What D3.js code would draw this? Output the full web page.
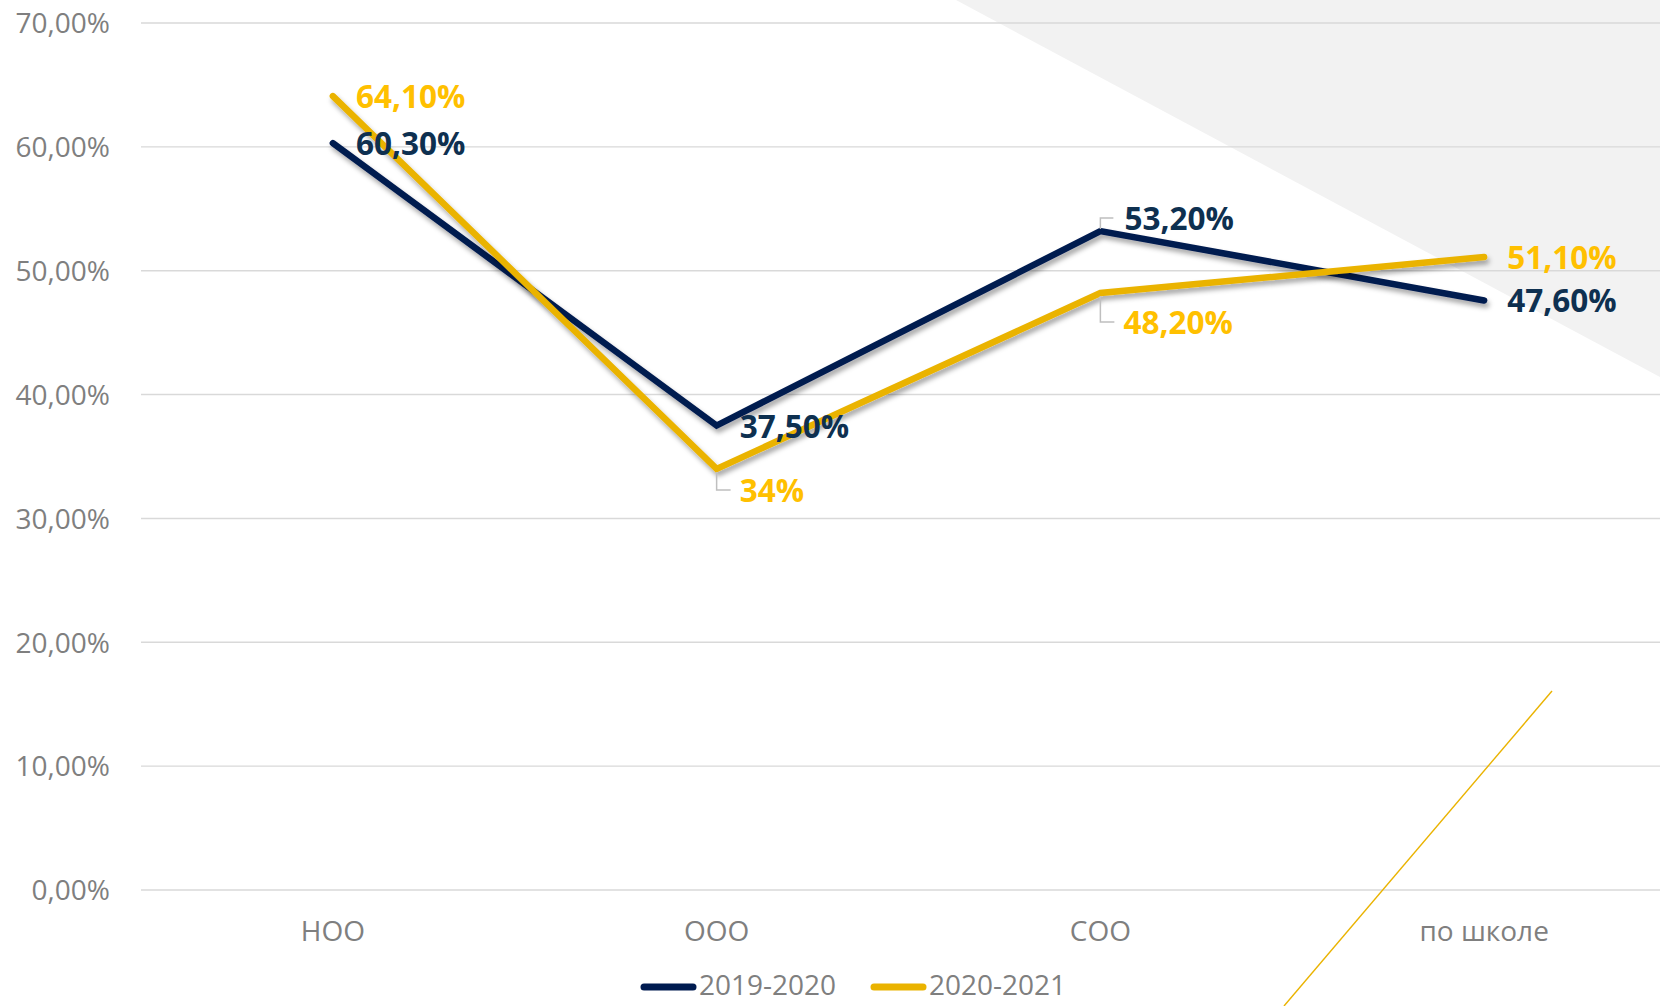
<!DOCTYPE html>
<html><head><meta charset="utf-8">
<script src="https://cdn.jsdelivr.net/npm/d3@7"></script>
<style>html,body{margin:0;padding:0;background:#fff;overflow:hidden}</style>
</head><body>
<svg id="c" width="1660" height="1006"></svg>
<script>
const categories = ["НОО", "ООО", "СОО", "по школе"];
const seriesNames = ["2019-2020", "2020-2021"];
const values2019 = [0.603, 0.375, 0.532, 0.476];
const values2020 = [0.641, 0.34, 0.482, 0.511];
const labels2019 = ["60,30%", "37,50%", "53,20%", "47,60%"];
const labels2020 = ["64,10%", "34%", "48,20%", "51,10%"];
const yTicks = [0, 0.1, 0.2, 0.3, 0.4, 0.5, 0.6, 0.7];
const place2019 = ["right", "right", "above", "right"];
const place2020 = ["right", "below", "below", "right"];

const lineColors = ["#001B50", "#EAB300"];
const labelColors = ["#0E3050", "#FFC000"];

const W = 1660, H = 1006;
const svg = d3.select("#c");
const x = d3.scaleBand().domain(categories).range([141, 1676]);
const y = d3.scaleLinear().domain([0, 0.7]).range([890, 23]);
const fmt = v => d3.format(".2f")(v * 100).replace(".", ",") + "%";

// decorative background triangle
svg.append("path").attr("d", `M956,0 L${W},0 L${W},377 Z`).attr("fill", "#F2F2F2");

// grid
svg.append("g").selectAll("line").data(yTicks).join("line")
  .attr("x1", 141).attr("x2", W)
  .attr("y1", d => y(d)).attr("y2", d => y(d))
  .attr("stroke", "#D9D9D9").attr("stroke-width", 1.4);

// y axis labels
const yAxis = d3.axisLeft(y).tickValues(yTicks).tickFormat(fmt).tickSize(0).tickPadding(0);
const ya = svg.append("g").attr("transform", "translate(110,0)").call(yAxis);
ya.select(".domain").remove();
ya.selectAll("text").attr("font-family", "Open Sans").attr("font-size", 28).attr("fill", "#7F7F7F").attr("dy", "0.35em");

// x axis labels
const xAxis = d3.axisBottom(x).tickSize(0).tickPadding(0);
const xa = svg.append("g").attr("transform", "translate(0,931)").call(xAxis);
xa.select(".domain").remove();
xa.selectAll("text").attr("font-family", "Open Sans").attr("font-size", 28).attr("fill", "#7F7F7F").attr("dy", "0.35em");

// decorative thin diagonal
svg.append("line").attr("x1", 1552).attr("y1", 691).attr("x2", 1284).attr("y2", 1006)
  .attr("stroke", "#EAB300").attr("stroke-width", 1.4);

// shadow
const defs = svg.append("defs");
defs.append("filter").attr("id", "sh").attr("x", "-10%").attr("y", "-10%").attr("width", "120%").attr("height", "130%")
  .append("feDropShadow").attr("dx", 2).attr("dy", 4).attr("stdDeviation", 2.5)
  .attr("flood-color", "#000").attr("flood-opacity", 0.35);

const cx = c => x(c) + x.bandwidth() / 2;
const line = d3.line().x(d => cx(d.c)).y(d => y(d.v));
const series = [values2019, values2020];
series.forEach((vals, i) => {
  svg.append("path").datum(categories.map((c, j) => ({c, v: vals[j]})))
    .attr("d", line).attr("fill", "none").attr("stroke", lineColors[i])
    .attr("stroke-width", 6.5).attr("stroke-linecap", "round").attr("stroke-linejoin", "miter")
    .attr("filter", "url(#sh)");
});

// data labels
const allLabels = [labels2019, labels2020];
const places = [place2019, place2020];
series.forEach((vals, i) => {
  categories.forEach((c, j) => {
    const px = cx(c), py = y(vals[j]);
    const p = places[i][j];
    let lx = px + 23, ly = py + 1;
    if (p === "above") {
      lx = px + 24; ly = py - 12;
      svg.append("path").attr("d", `M${px},${py - 2} V${ly - 1} H${px + 13}`)
        .attr("fill", "none").attr("stroke", "#BFBFBF").attr("stroke-width", 1.5);
    } else if (p === "below") {
      lx = px + 23; ly = py + (j === 1 ? 22 : 30);
      svg.append("path").attr("d", `M${px},${py + 3} V${ly - 1} H${px + 14}`)
        .attr("fill", "none").attr("stroke", "#BFBFBF").attr("stroke-width", 1.5);
    }
    svg.append("text").attr("x", lx).attr("y", ly).attr("dy", "0.35em")
      .attr("font-family", "Open Sans").attr("font-weight", "bold").attr("font-size", 31.5)
      .attr("fill", labelColors[i]).text(allLabels[i][j]);
  });
});

// legend
const legendX = [641, 871];
seriesNames.forEach((n, i) => {
  const g = svg.append("g").attr("transform", `translate(${legendX[i]},985)`);
  g.append("line").attr("x1", 3).attr("x2", 52).attr("y1", 2).attr("y2", 2)
    .attr("stroke", lineColors[i]).attr("stroke-width", 7).attr("stroke-linecap", "round");
  g.append("text").attr("x", 58).attr("y", 0).attr("dy", "0.35em")
    .attr("font-family", "Open Sans").attr("font-size", 28).attr("fill", "#7F7F7F").text(n);
});
</script>
</body></html>
